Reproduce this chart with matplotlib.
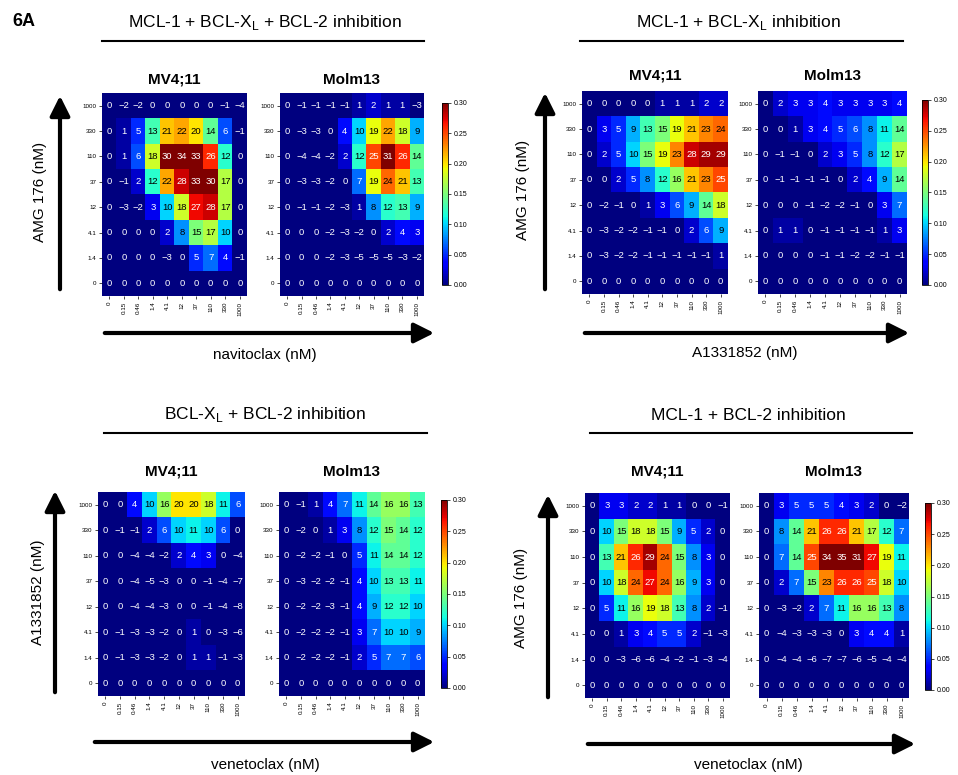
import numpy as np
import matplotlib
matplotlib.use("Agg")
import matplotlib.pyplot as plt
from matplotlib.colors import Normalize

plt.rcParams['font.family'] = ['Liberation Sans', 'DejaVu Sans']

# ---------------- data ----------------
x_ticks = ["0", "0.15", "0.46", "1.4", "4.1", "12", "37", "110", "330", "1000"]
y_ticks = ["1000", "330", "110", "37", "12", "4.1", "1.4", "0"]  # top to bottom

p1_mv411 = [
    [0, -2, -2, 0, 0, 0, 0, 0, -1, -4],
    [0, 1, 5, 13, 21, 22, 20, 14, 6, -1],
    [0, 1, 6, 18, 30, 34, 33, 26, 12, 0],
    [0, -1, 2, 12, 22, 28, 33, 30, 17, 0],
    [0, -3, -2, 3, 10, 18, 27, 28, 17, 0],
    [0, 0, 0, 0, 2, 8, 15, 17, 10, 0],
    [0, 0, 0, 0, -3, 0, 5, 7, 4, -1],
    [0, 0, 0, 0, 0, 0, 0, 0, 0, 0],
]
p1_molm13 = [
    [0, -1, -1, -1, -1, 1, 2, 1, 1, -3],
    [0, -3, -3, 0, 4, 10, 19, 22, 18, 9],
    [0, -4, -4, -2, 2, 12, 25, 31, 26, 14],
    [0, -3, -3, -2, 0, 7, 19, 24, 21, 13],
    [0, -1, -1, -2, -3, 1, 8, 12, 13, 9],
    [0, 0, 0, -2, -3, -2, 0, 2, 4, 3],
    [0, 0, 0, -2, -3, -5, -5, -5, -3, -2],
    [0, 0, 0, 0, 0, 0, 0, 0, 0, 0],
]
p2_mv411 = [
    [0, 0, 0, 0, 0, 1, 1, 1, 2, 2],
    [0, 3, 5, 9, 13, 15, 19, 21, 23, 24],
    [0, 2, 5, 10, 15, 19, 23, 28, 29, 29],
    [0, 0, 2, 5, 8, 12, 16, 21, 23, 25],
    [0, -2, -1, 0, 1, 3, 6, 9, 14, 18],
    [0, -3, -2, -2, -1, -1, 0, 2, 6, 9],
    [0, -3, -2, -2, -1, -1, -1, -1, -1, 1],
    [0, 0, 0, 0, 0, 0, 0, 0, 0, 0],
]
p2_molm13 = [
    [0, 2, 3, 3, 4, 3, 3, 3, 3, 4],
    [0, 0, 1, 3, 4, 5, 6, 8, 11, 14],
    [0, -1, -1, 0, 2, 3, 5, 8, 12, 17],
    [0, -1, -1, -1, -1, 0, 2, 4, 9, 14],
    [0, 0, 0, -1, -2, -2, -1, 0, 3, 7],
    [0, 1, 1, 0, -1, -1, -1, -1, 1, 3],
    [0, 0, 0, 0, -1, -1, -2, -2, -1, -1],
    [0, 0, 0, 0, 0, 0, 0, 0, 0, 0],
]
p3_mv411 = [
    [0, 0, 4, 10, 16, 20, 20, 18, 11, 6],
    [0, -1, -1, 2, 6, 10, 11, 10, 6, 0],
    [0, 0, -4, -4, -2, 2, 4, 3, 0, -4],
    [0, 0, -4, -5, -3, 0, 0, -1, -4, -7],
    [0, 0, -4, -4, -3, 0, 0, -1, -4, -8],
    [0, -1, -3, -3, -2, 0, 1, 0, -3, -6],
    [0, -1, -3, -3, -2, 0, 1, 1, -1, -3],
    [0, 0, 0, 0, 0, 0, 0, 0, 0, 0],
]
p3_molm13 = [
    [0, -1, 1, 4, 7, 11, 14, 16, 16, 13],
    [0, -2, 0, 1, 3, 8, 12, 15, 14, 12],
    [0, -2, -2, -1, 0, 5, 11, 14, 14, 12],
    [0, -3, -2, -2, -1, 4, 10, 13, 13, 11],
    [0, -2, -2, -3, -1, 4, 9, 12, 12, 10],
    [0, -2, -2, -2, -1, 3, 7, 10, 10, 9],
    [0, -2, -2, -2, -1, 2, 5, 7, 7, 6],
    [0, 0, 0, 0, 0, 0, 0, 0, 0, 0],
]
p4_mv411 = [
    [0, 3, 3, 2, 2, 1, 1, 0, 0, -1],
    [0, 10, 15, 18, 18, 15, 9, 5, 2, 0],
    [0, 13, 21, 26, 29, 24, 15, 8, 3, 0],
    [0, 10, 18, 24, 27, 24, 16, 9, 3, 0],
    [0, 5, 11, 16, 19, 18, 13, 8, 2, -1],
    [0, 0, 1, 3, 4, 5, 5, 2, -1, -3],
    [0, 0, -3, -6, -6, -4, -2, -1, -3, -4],
    [0, 0, 0, 0, 0, 0, 0, 0, 0, 0],
]
p4_molm13 = [
    [0, 3, 5, 5, 5, 4, 3, 2, 0, -2],
    [0, 8, 14, 21, 26, 26, 21, 17, 12, 7],
    [0, 7, 14, 25, 34, 35, 31, 27, 19, 11],
    [0, 2, 7, 15, 23, 26, 26, 25, 18, 10],
    [0, -3, -2, 2, 7, 11, 16, 16, 13, 8],
    [0, -4, -3, -3, -3, 0, 3, 4, 4, 1],
    [0, -4, -4, -6, -7, -7, -6, -5, -4, -4],
    [0, 0, 0, 0, 0, 0, 0, 0, 0, 0],
]

panel_titles = [r"MCL-1 + BCL-X$_\mathregular{L}$ + BCL-2 inhibition",
                r"MCL-1 + BCL-X$_\mathregular{L}$ inhibition",
                r"BCL-X$_\mathregular{L}$ + BCL-2 inhibition",
                "MCL-1 + BCL-2 inhibition"]
x_labels = ["navitoclax (nM)", "A1331852 (nM)", "venetoclax (nM)", "venetoclax (nM)"]
y_labels = ["AMG 176 (nM)", "AMG 176 (nM)", "A1331852 (nM)", "AMG 176 (nM)"]
cell_lines = ["MV4;11", "Molm13"]
cbar_ticks = [0.00, 0.05, 0.10, 0.15, 0.20, 0.25, 0.30]

# ---------------- layout (pixels) ----------------
W, H = 958, 775
fig = plt.figure(figsize=(W / 100, H / 100), dpi=100)


def rect(x0, x1, y0, y1):
    return [x0 / W, 1 - y1 / H, (x1 - x0) / W, (y1 - y0) / H]


def fx(x):
    return x / W


def fy(y):
    return 1 - y / H


panels = [
    dict(data=(p1_mv411, p1_molm13),
         hm=((102, 247), (280, 424)), hy=(93, 296), cb=(442, 448, 103, 285),
         title=(265, 22), uline=(102, 424, 41), sub_y=80,
         yarrow=(60, 292, 93), ylab=(40, 192), xarrow=(102, 437, 333), xlab=(265, 355)),
    dict(data=(p2_mv411, p2_molm13),
         hm=((582, 728), (758, 907)), hy=(91, 294), cb=(922, 928, 100, 285),
         title=(738, 22), uline=(580, 903, 41), sub_y=76,
         yarrow=(545, 292, 90), ylab=(523, 190), xarrow=(582, 912, 333), xlab=(745, 353)),
    dict(data=(p3_mv411, p3_molm13),
         hm=((98, 245), (279, 425)), hy=(492, 696), cb=(441, 447, 500, 688),
         title=(265, 415), uline=(104, 427, 433), sub_y=472,
         yarrow=(55, 695, 488), ylab=(38, 592), xarrow=(92, 437, 742), xlab=(265, 765)),
    dict(data=(p4_mv411, p4_molm13),
         hm=((585, 730), (759, 909)), hy=(493, 698), cb=(925, 931, 503, 690),
         title=(748, 415), uline=(590, 912, 433), sub_y=472,
         yarrow=(548, 700, 492), ylab=(521, 598), xarrow=(585, 918, 744), xlab=(748, 765)),
]

cmap = plt.get_cmap("jet")
norm = Normalize(vmin=0.0, vmax=0.30)


def fmt(v):
    return ("\u2212" + str(-v)) if v < 0 else str(v)


for p_i, p in enumerate(panels):
    y0, y1 = p["hy"]
    im = None
    for k, (xr, data) in enumerate(zip(p["hm"], p["data"])):
        arr = np.array(data, dtype=float) / 100.0
        ax = fig.add_axes(rect(xr[0], xr[1], y0, y1))
        im = ax.imshow(np.clip(arr, 0, 0.30), cmap=cmap, norm=norm,
                       aspect="auto", interpolation="nearest")
        for r in range(arr.shape[0]):
            for c in range(arr.shape[1]):
                v = data[r][c]
                col = "black" if 8 <= v <= 24 else "white"
                ax.text(c, r, fmt(v), ha="center", va="center",
                        fontsize=6.8, color=col)
        ax.set_xticks(range(len(x_ticks)))
        ax.set_xticklabels(x_ticks, rotation=90, fontsize=4.5)
        ax.set_yticks(range(len(y_ticks)))
        ax.set_yticklabels(y_ticks, fontsize=4.5)
        ax.tick_params(length=2, width=0.5, pad=2)
        for s in ax.spines.values():
            s.set_visible(False)
        fig.text(fx((xr[0] + xr[1]) / 2), fy(p["sub_y"]), cell_lines[k],
                 ha="center", va="center", fontsize=11, fontweight="bold")
    # colorbar
    cx0, cx1, cy0, cy1 = p["cb"]
    cax = fig.add_axes(rect(cx0, cx1, cy0, cy1))
    cb = fig.colorbar(im, cax=cax, ticks=cbar_ticks)
    cb.ax.set_yticklabels([f"{t:.2f}" for t in cbar_ticks])
    cb.ax.tick_params(labelsize=5, length=2, width=0.5, pad=2)
    cb.outline.set_linewidth(0.6)
    # panel title and underline
    fig.text(fx(p["title"][0]), fy(p["title"][1]), panel_titles[p_i],
             ha="center", va="center", fontsize=12.5)
    ux0, ux1, uy = p["uline"]
    fig.add_artist(plt.Line2D([fx(ux0), fx(ux1)], [fy(uy), fy(uy)],
                              color="black", lw=1.5))
    # arrows
    ax_x, ay0, ay1 = p["yarrow"]
    fig.add_artist(matplotlib.patches.FancyArrowPatch(
        (fx(ax_x), fy(ay0)), (fx(ax_x), fy(ay1)), transform=fig.transFigure,
        arrowstyle="-|>,head_length=8,head_width=4", lw=3, color="black",
        mutation_scale=1.5))
    xa0, xa1, xay = p["xarrow"]
    fig.add_artist(matplotlib.patches.FancyArrowPatch(
        (fx(xa0), fy(xay)), (fx(xa1), fy(xay)), transform=fig.transFigure,
        arrowstyle="-|>,head_length=8,head_width=4", lw=3, color="black",
        mutation_scale=1.5))
    fig.text(fx(p["ylab"][0]), fy(p["ylab"][1]), y_labels[p_i], rotation=90,
             ha="center", va="center", fontsize=11)
    fig.text(fx(p["xlab"][0]), fy(p["xlab"][1]), x_labels[p_i],
             ha="center", va="center", fontsize=11)

fig.text(fx(12), fy(22), "6A", ha="left", va="center", fontsize=13,
         fontweight="bold")

fig.savefig("out.png", dpi=100)
